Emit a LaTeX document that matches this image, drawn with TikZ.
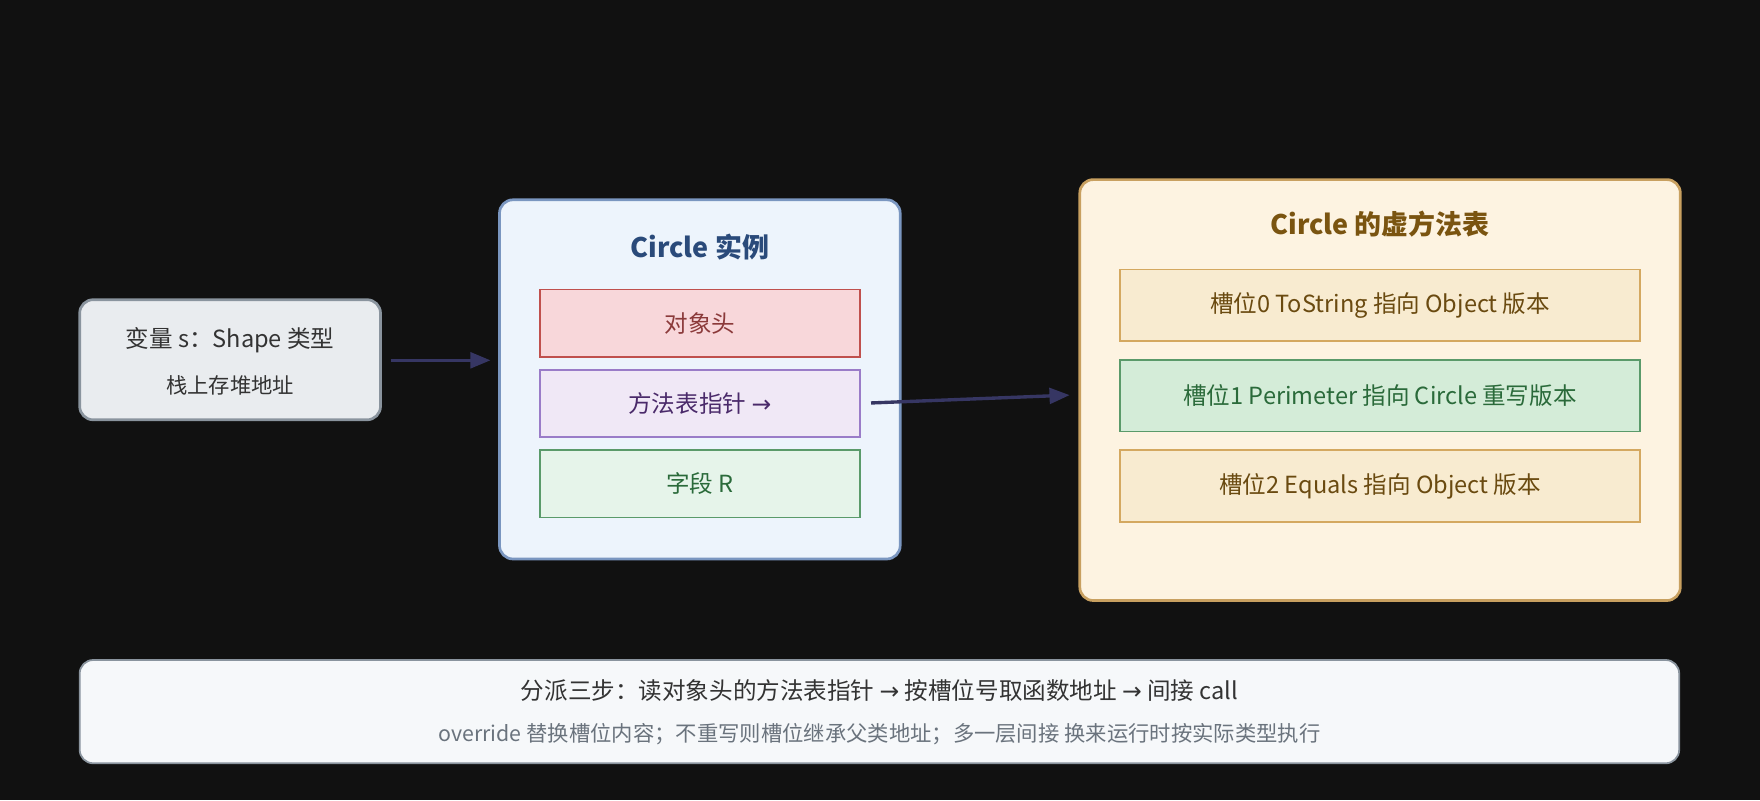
\documentclass[tikz,border=0pt]{standalone}
\usepackage{fontspec}
\setmainfont{Noto Sans CJK SC}
\usetikzlibrary{arrows.meta}
\definecolor{bg}{HTML}{111111}
\begin{document}
\begin{tikzpicture}[x=0.5pt,y=-0.5pt,
  box/.style={draw, rounded corners=6pt, line width=1.2pt},
  slot/.style={draw, line width=0.7pt},
  txt/.style={font=\fontsize{10.5}{12}\selectfont},
  ttl/.style={font=\fontsize{12}{14}\selectfont\bfseries},
  arr/.style={draw=gray!70!blue!60!black, line width=1.5pt, -{Triangle[length=9pt,width=7pt]}}]
\fill[bg] (0,0) rectangle (1568,713);
\useasboundingbox (0,0) rectangle (1568,713);
% variable
\node[box, draw={rgb,255:red,138;green,148;blue,158}, fill={rgb,255:red,233;green,236;blue,239}, minimum width=134pt, minimum height=53.5pt] (var) at (205,320.5) {};
\node[txt, text={rgb,255:red,51;green,51;blue,51}] (v1) at (205,303) {变量 s：Shape 类型};
\node[font=\fontsize{9.5}{11}\selectfont, text={rgb,255:red,51;green,51;blue,51}] (v2) at (205,343) {栈上存堆地址};
% instance
\node[box, draw={rgb,255:red,122;green,150;blue,192}, fill={rgb,255:red,237;green,244;blue,252}, minimum width=178.5pt, minimum height=160pt] (inst) at (623.5,338) {};
\node[ttl, text={rgb,255:red,42;green,74;blue,122}] (it) at (623.5,220) {Circle 实例};
\node[slot, draw={rgb,255:red,192;green,80;blue,77}, fill={rgb,255:red,248;green,215;blue,218}, text={rgb,255:red,139;green,58;blue,58}, txt, minimum width=142.5pt, minimum height=30pt] (hdr) at (623.5,288) {对象头};
\node[slot, draw={rgb,255:red,154;green,124;blue,200}, fill={rgb,255:red,240;green,232;blue,246}, text={rgb,255:red,74;green,42;blue,106}, txt, minimum width=142.5pt, minimum height=30pt] (mtp) at (623.5,359.5) {方法表指针 \fontspec{DejaVu Sans}→};
\node[slot, draw={rgb,255:red,90;green,154;blue,106}, fill={rgb,255:red,230;green,244;blue,234}, text={rgb,255:red,42;green,106;blue,58}, txt, minimum width=142.5pt, minimum height=30pt] (fld) at (623.5,431) {字段 R};
% vtable
\node[box, draw={rgb,255:red,200;green,160;blue,96}, fill={rgb,255:red,253;green,243;blue,225}, minimum width=267.5pt, minimum height=187.5pt] (vt) at (1229.5,347.5) {};
\node[ttl, text={rgb,255:red,122;green,84;blue,16}] (vtt) at (1229.5,200) {Circle 的虚方法表};
\node[slot, draw={rgb,255:red,212;green,168;blue,96}, fill={rgb,255:red,248;green,235;blue,208}, text={rgb,255:red,106;green,74;blue,16}, txt, minimum width=231.5pt, minimum height=32pt] (s0) at (1229.5,272) {槽位0 ToString 指向 Object 版本};
\node[slot, draw={rgb,255:red,90;green,154;blue,106}, fill={rgb,255:red,212;green,236;blue,216}, text={rgb,255:red,42;green,106;blue,58}, txt, minimum width=231.5pt, minimum height=32pt] (s1) at (1229.5,352.5) {槽位1 Perimeter 指向 Circle 重写版本};
\node[slot, draw={rgb,255:red,212;green,168;blue,96}, fill={rgb,255:red,248;green,235;blue,208}, text={rgb,255:red,106;green,74;blue,16}, txt, minimum width=231.5pt, minimum height=32pt] (s2) at (1229.5,433) {槽位2 Equals 指向 Object 版本};
% arrows
\coordinate (a1s) at (348,321); \coordinate (a1e) at (437,321);
\coordinate (a2s) at (776,359); \coordinate (a2e) at (953,352);
\draw[arr] (a1s) -- (a1e);
\draw[arr] (a2s) -- (a2e);
% bottom
\node[box, line width=0.8pt, draw={rgb,255:red,138;green,148;blue,158}, fill={rgb,255:red,246;green,248;blue,250}, minimum width=712.5pt, minimum height=46pt] (bot) at (783.5,634) {};
\node[txt, text={rgb,255:red,51;green,51;blue,51}] (b1) at (783.5,615) {分派三步：读对象头的方法表指针 {\fontspec{DejaVu Sans}→} 按槽位号取函数地址 {\fontspec{DejaVu Sans}→} 间接 call};
\node[font=\fontsize{9.5}{11}\selectfont, text={rgb,255:red,106;green,115;blue,125}] (b2) at (783.5,654) {override 替换槽位内容；不重写则槽位继承父类地址；多一层间接 换来运行时按实际类型执行};
\end{tikzpicture}
\end{document}
